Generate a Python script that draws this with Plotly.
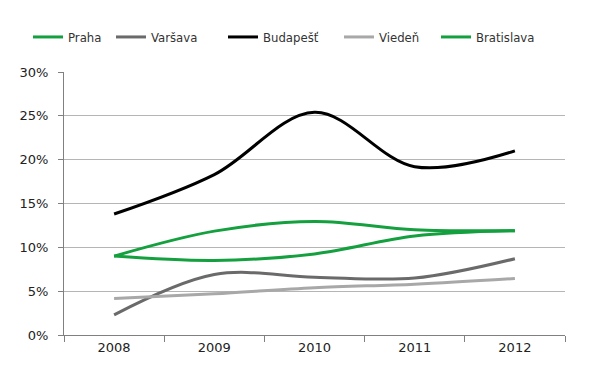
import plotly.graph_objects as go

years = ["2008", "2009", "2010", "2011", "2012"]
praha = [9.0, 11.85, 12.95, 12.0, 11.9]
varsava = [2.3, 6.9, 6.6, 6.5, 8.7]
budapest = [13.8, 18.3, 25.4, 19.2, 21.0]
vieden = [4.15, 4.7, 5.4, 5.8, 6.45]
bratislava = [9.0, 8.5, 9.25, 11.3, 11.9]

names = ["Praha", "Varšava", "Budapešť", "Viedeň", "Bratislava"]
series = [praha, varsava, budapest, vieden, bratislava]
colors = ["#14a03e", "#6a6a6a", "#000000", "#a8a8a8", "#14a03e"]
legend_ids = ["legend", "legend2", "legend3", "legend4", "legend5"]
legend_x = [20, 103, 215, 331, 428]

fig = go.Figure()
for name, vals, col, lid in zip(names, series, colors, legend_ids):
    fig.add_trace(go.Scatter(
        x=years, y=[v / 100 for v in vals], name=name, mode="lines",
        line=dict(color=col, width=3, shape="spline", smoothing=1.0),
        legend=lid,
    ))

legend_font = dict(family="DejaVu Sans Condensed, Liberation Sans Narrow, sans-serif",
                   size=13, color="#333333")
layout_legends = {}
for lid, lx in zip(legend_ids, legend_x):
    layout_legends[lid] = dict(
        x=lx / 600, y=1 - 29 / 375, xref="container", yref="container",
        xanchor="left", yanchor="middle", orientation="h",
        font=legend_font, bgcolor="rgba(0,0,0,0)", borderwidth=0,
        itemclick=False, itemdoubleclick=False,
    )

fig.update_layout(
    width=600, height=375,
    margin=dict(l=56, r=43, t=64, b=48),
    paper_bgcolor="white", plot_bgcolor="white",
    showlegend=True,
    **layout_legends,
)

fig.update_xaxes(
    type="category", range=[-0.5, 4.5],
    showline=True, linecolor="#808080", linewidth=1,
    ticks="outside", ticklen=6, tickcolor="#808080", tickson="boundaries",
    showgrid=False, zeroline=False,
    tickfont=dict(family="DejaVu Sans, Verdana, sans-serif", size=13, color="#222222"),
)
fig.update_yaxes(
    range=[0, 0.30], dtick=0.05, tickformat=".0%",
    showline=True, linecolor="#808080", linewidth=1,
    ticks="outside", ticklen=5, tickcolor="#808080",
    showgrid=True, gridcolor="#b5b5b5", gridwidth=1, zeroline=False,
    tickfont=dict(family="DejaVu Sans, Verdana, sans-serif", size=13, color="#222222"),
    ticklabelstandoff=7,
)

fig.write_html("out.html")
